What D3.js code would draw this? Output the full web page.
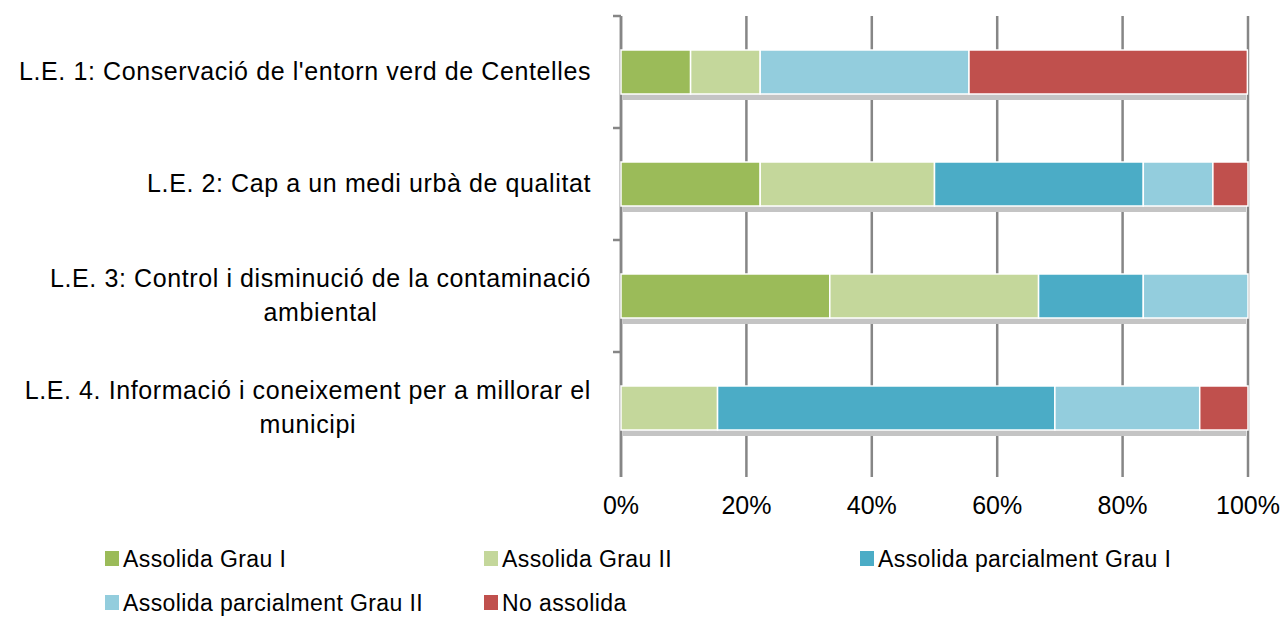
<!DOCTYPE html>
<html>
<head>
<meta charset="utf-8">
<script src="https://cdn.jsdelivr.net/npm/d3@7"></script>
<style>
  body { margin: 0; background: #fff; }
  svg { font-family: "Liberation Sans", Arial, sans-serif; }
</style>
</head>
<body>
<div id="chart"></div>
<script>
// Categories (each entry is a list of label lines)
var categories = [
    ["L.E. 1: Conservació de l'entorn verd de Centelles"],
    ["L.E. 2: Cap a un medi urbà de qualitat"],
    ["L.E. 3: Control i disminució de la contaminació", "ambiental"],
    ["L.E. 4. Informació i coneixement per a millorar el", "municipi"]
];

// Series names and colours
var seriesNames = ["Assolida Grau I", "Assolida Grau II", "Assolida parcialment Grau I",
                   "Assolida parcialment Grau II", "No assolida"];
var seriesColors = ["#9bbb59", "#c4d79b", "#4bacc6", "#93cddd", "#c0504d"];

// Values per series (percent of each line)
var grauI        = [11.1, 22.2, 33.3, 0];
var grauII       = [11.1, 27.8, 33.3, 15.4];
var parcialI     = [0, 33.3, 16.7, 53.8];
var parcialII    = [33.3, 11.1, 16.7, 23.1];
var noAssolida   = [44.4, 5.6, 0, 7.7];

var tickValues = [0, 20, 40, 60, 80, 100];

// Build a table d3.stack can use
var keys = ["s0", "s1", "s2", "s3", "s4"];
var table = categories.map(function(c, i) {
    return {cat: i, s0: grauI[i], s1: grauII[i], s2: parcialI[i], s3: parcialII[i], s4: noAssolida[i]};
});

var W = 1280, H = 617,
    margin = {top: 16, left: 621, right: 32, bottom: 153}; // plot area 621..1248, 16..464

var svg = d3.select("#chart").append("svg")
    .attr("width", W)
    .attr("height", H);

var xScale = d3.scaleLinear().domain([0, 100]).range([margin.left, W - margin.right]);
var yScale = d3.scaleBand().domain(d3.range(categories.length))
    .range([margin.top, H - margin.bottom])
    .paddingInner(0.607).paddingOuter(0.3035);

var plotBottom = H - margin.bottom;

// Vertical gridlines, running a little past the plot as tick marks
svg.append("g").selectAll("line")
    .data(tickValues)
    .join("line")
    .attr("x1", function(d) { return xScale(d); })
    .attr("x2", function(d) { return xScale(d); })
    .attr("y1", margin.top)
    .attr("y2", plotBottom + 13)
    .attr("stroke", "#868686")
    .attr("stroke-width", 2.5);

// Category axis on the left
var yTicks = d3.range(categories.length + 1).map(function(i) {
    return margin.top + i * (plotBottom - margin.top) / categories.length;
});
var leftAxis = svg.append("g");
leftAxis.append("line")
    .attr("x1", margin.left).attr("x2", margin.left)
    .attr("y1", margin.top).attr("y2", plotBottom + 13)
    .attr("stroke", "#868686").attr("stroke-width", 2.5);
leftAxis.selectAll("line.tick")
    .data(yTicks.slice(0, categories.length))
    .join("line")
    .attr("class", "tick")
    .attr("x1", margin.left - 8).attr("x2", margin.left)
    .attr("y1", function(d) { return d; }).attr("y2", function(d) { return d; })
    .attr("stroke", "#868686").attr("stroke-width", 2.5);

var stacked = d3.stack().keys(keys)(table);

// Bar shadows
svg.append("g").selectAll("rect")
    .data(table)
    .join("rect")
    .attr("x", xScale(0) + 2)
    .attr("y", function(d) { return yScale(d.cat) + yScale.bandwidth(); })
    .attr("width", xScale(100) - xScale(0) - 4)
    .attr("height", 6)
    .attr("fill", "#c4c4c4");

// Stacked bars
svg.append("g").selectAll("g")
    .data(stacked)
    .join("g")
    .attr("fill", function(d, i) { return seriesColors[i]; })
    .selectAll("rect")
    .data(function(d) { return d.filter(function(p) { return p[1] - p[0] > 0; }); })
    .join("rect")
    .attr("x", function(d) { return xScale(d[0]); })
    .attr("y", function(d) { return yScale(d.data.cat); })
    .attr("width", function(d) { return xScale(d[1]) - xScale(d[0]); })
    .attr("height", yScale.bandwidth())
    .attr("stroke", "#fff")
    .attr("stroke-width", 1.5);

// Category labels, block right-aligned, lines centred within the block
var labels = svg.append("g")
    .attr("font-size", 25)
    .attr("letter-spacing", 0.6)
    .attr("fill", "#000");
categories.forEach(function(lines, i) {
    var cy = yScale(i) + yScale.bandwidth() / 2;
    var lineH = 34;
    var t = labels.append("text").attr("text-anchor", "middle");
    lines.forEach(function(l, j) {
        t.append("tspan")
            .attr("y", cy + (j - (lines.length - 1) / 2) * lineH)
            .attr("dy", "0.33em")
            .text(l);
    });
    // width of the widest line decides the block centre
    var w = d3.max(t.selectAll("tspan").nodes(), function(n) { return n.getComputedTextLength(); });
    t.selectAll("tspan").attr("x", 591 - w / 2);
});

// Bottom tick labels
svg.append("g").selectAll("text")
    .data(tickValues)
    .join("text")
    .attr("x", function(d) { return xScale(d); })
    .attr("y", 505)
    .attr("dy", "0.35em")
    .attr("text-anchor", "middle")
    .attr("font-size", 25)
    .text(function(d) { return d + "%"; });

// Legend
var legendPos = [[105, 559], [484, 559], [860, 559], [105, 603], [484, 603]];
var legend = svg.append("g").attr("font-size", 23).attr("letter-spacing", 0.4);
seriesNames.forEach(function(name, i) {
    var p = legendPos[i];
    legend.append("rect")
        .attr("x", p[0]).attr("y", p[1] - 8)
        .attr("width", 14).attr("height", 15)
        .attr("fill", seriesColors[i]);
    legend.append("text")
        .attr("x", p[0] + 18).attr("y", p[1])
        .attr("dy", "0.35em")
        .text(name);
});
</script>
</body>
</html>
